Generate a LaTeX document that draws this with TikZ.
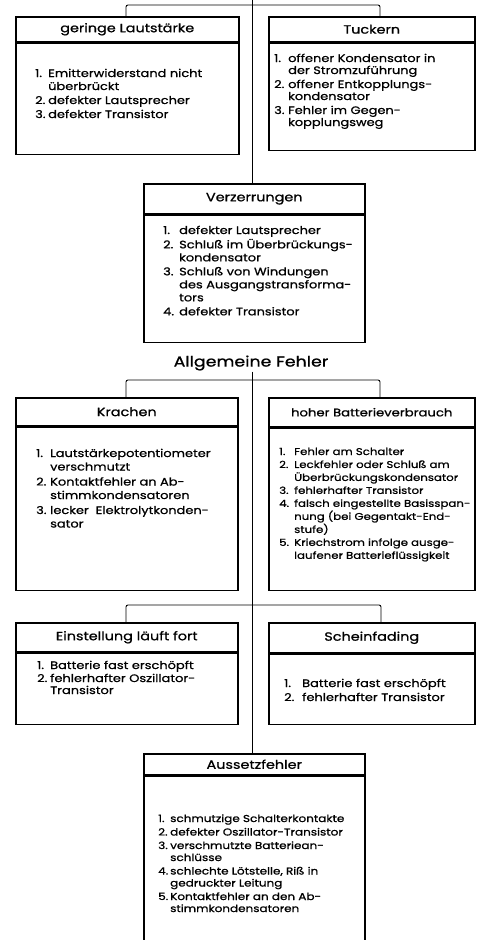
\documentclass[tikz,border=0pt]{standalone}
\usepackage{fontspec}
\setmainfont{Poppins}[FakeStretch=1.2,FakeBold=0.9]
\begin{document}
\begin{tikzpicture}[x=1pt,y=-1pt,
  box/.style={draw,line width=1.5pt,rectangle,inner sep=0pt,anchor=north west},
  hdr/.style={box,font=\fontsize{12}{14}\selectfont},
  conn/.style={draw,line width=0.9pt,rounded corners=2pt},
  items/.style={anchor=base west,inner sep=0pt,align=left},
  big/.style={font=\fontsize{10.8}{12}\selectfont},
  wide/.style={font=\fontsize{10.8}{13}\selectfont},
  small/.style={font=\fontsize{9.8}{12}\selectfont}
]
\useasboundingbox (0,0) rectangle (482,940);
\clip (0,0) rectangle (482,940);

% geringe Lautstaerke
\node[hdr,minimum width=223pt,minimum height=25pt] (h1) at (15,16) {geringe Lautstärke};
\node[box,minimum width=223pt,minimum height=111pt] (b1) at (h1.south west) {};
\node[items,wide] (t1) at (35,77) {\begin{tabular}[t]{@{}p{13pt}@{}l@{}}1.&Emitterwiderstand nicht\\&überbrückt\\[1pt]2.&defekter Lautsprecher\\[1pt]3.&defekter Transistor\end{tabular}};

% Tuckern
\node[hdr,minimum width=206pt,minimum height=25pt] (h2) at (268,16) {Tuckern};
\node[box,minimum width=206pt,minimum height=107pt] (b2) at (h2.south west) {};
\node[items,big] (t2) at (274,62) {\begin{tabular}[t]{@{}p{14pt}@{}l@{}}1.&offener Kondensator in\\&der Stromzuführung\\[2pt]2.&offener Entkopplungs-\\&kondensator\\[2pt]3.&Fehler im Gegen-\\&kopplungsweg\end{tabular}};

% Verzerrungen
\node[hdr,minimum width=221pt,minimum height=30pt] (h3) at (143,183) {Verzerrungen};
\node[box,minimum width=221pt,minimum height=127pt] (b3) at (h3.south west) {};
\node[items,wide] (t3) at (163,234) {\begin{tabular}[t]{@{}p{16pt}@{}l@{}}1.&defekter Lautsprecher\\[1pt]2.&Schluß im Überbrückungs-\\&kondensator\\[1pt]3.&Schluß von Windungen\\&des Ausgangstransforma-\\&tors\\[1pt]4.&defekter Transistor\end{tabular}};

% Allgemeine Fehler
\node[font=\fontsize{14.5}{17}\selectfont,inner sep=1pt] (af) at (251,363) {Allgemeine Fehler};

% Krachen
\node[hdr,minimum width=222pt,minimum height=28pt] (h4) at (15,397) {Krachen};
\node[box,minimum width=222pt,minimum height=163pt] (b4) at (h4.south west) {};
\node[items,font=\fontsize{10.8}{13.5}\selectfont] (t4) at (36,457) {\begin{tabular}[t]{@{}p{14pt}@{}l@{}}1.&Lautstärkepotentiometer\\&verschmutzt\\[1.5pt]2.&Kontaktfehler an Ab-\\&stimmkondensatoren\\[1.5pt]3.&lecker\ \ Elektrolytkonden-\\&sator\end{tabular}};

% hoher Batterieverbrauch
\node[hdr,font=\fontsize{11}{13}\selectfont,minimum width=206pt,minimum height=29pt] (h5) at (268,397) {hoher Batterieverbrauch};
\node[box,minimum width=206pt,minimum height=162pt] (b5) at (h5.south west) {};
\node[items,small] (t5) at (279,455) {\renewcommand\arraystretch{1.08}\begin{tabular}[t]{@{}p{15pt}@{}l@{}}1.&Fehler am Schalter\\2.&Leckfehler oder Schluß am\\&Überbrückungskondensator\\3.&fehlerhafter Transistor\\4.&falsch eingestellte Basisspan-\\&nung (bei Gegentakt-End-\\&stufe)\\5.&Kriechstrom infolge ausge-\\&laufener Batterieflüssigkeit\end{tabular}};

% Einstellung laeuft fort
\node[hdr,minimum width=222pt,minimum height=29pt] (h6) at (15,622) {Einstellung läuft fort};
\node[box,minimum width=222pt,minimum height=71pt] (b6) at (h6.south west) {};
\node[items,big] (t6) at (37,669) {\begin{tabular}[t]{@{}p{13pt}@{}l@{}}1.&Batterie fast erschöpft\\[1pt]2.&fehlerhafter Oszillator-\\&Transistor\end{tabular}};

% Scheinfading
\node[hdr,minimum width=206pt,minimum height=30pt] (h7) at (268,622) {Scheinfading};
\node[box,minimum width=206pt,minimum height=70pt] (b7) at (h7.south west) {};
\node[items,big] (t7) at (284,687) {\begin{tabular}[t]{@{}p{18pt}@{}l@{}}1.&Batterie fast erschöpft\\[2pt]2.&fehlerhafter Transistor\end{tabular}};

% Aussetzfehler
\node[hdr,minimum width=221pt,minimum height=21pt] (h8) at (143,753) {Aussetzfehler};
\node[box,minimum width=221pt,minimum height=200pt] (b8) at (h8.south west) {};
\node[items,font=\fontsize{10}{12}\selectfont] (t8) at (158,822) {\begin{tabular}[t]{@{}p{12pt}@{}l@{}}1.&schmutzige Schalterkontakte\\[1.5pt]2.&defekter Oszillator-Transistor\\[1.5pt]3.&verschmutzte Batteriean-\\&schlüsse\\[1.5pt]4.&schlechte Lötstelle, Riß in\\&gedruckter Leitung\\[1.5pt]5.&Kontaktfehler an den Ab-\\&stimmkondensatoren\end{tabular}};

% connectors
\coordinate (top) at (252,0);
\coordinate (jL1) at (126,5);
\coordinate (jR1) at (380,5);
\draw[conn] (jL1 |- h1.north) -- (jL1) -- (jR1) -- (jR1 |- h2.north);
\draw[conn] (top) -- (top |- h3.north);

\coordinate (jL2) at (126,380);
\coordinate (jR2) at (380,380);
\draw[conn] (jL2 |- h4.north) -- (jL2) -- (jR2) -- (jR2 |- h5.north);
\draw[conn] (af.south -| top) -- (top |- h8.north);

\coordinate (jL3) at (126,605);
\coordinate (jR3) at (381,605);
\draw[conn] (jL3 |- h6.north) -- (jL3) -- (jR3) -- (jR3 |- h7.north);
\end{tikzpicture}
\end{document}
